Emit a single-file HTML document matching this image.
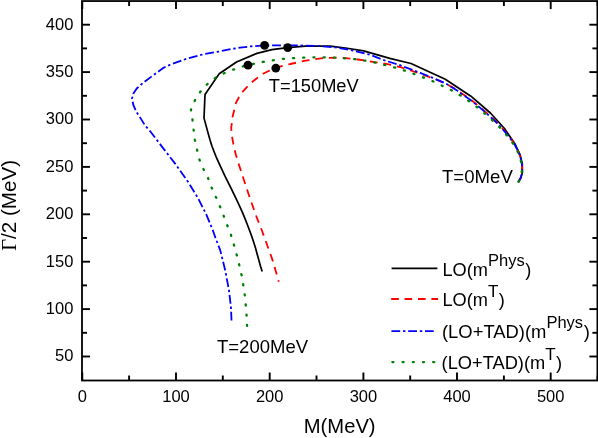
<!DOCTYPE html>
<html><head><meta charset="utf-8"><title>plot</title>
<style>html,body{margin:0;padding:0;background:#fff}body{width:598px;height:438px;position:relative;overflow:hidden;font-family:"Liberation Sans",sans-serif}</style></head>
<body>
<svg width="598" height="438" viewBox="0 0 598 438" style="position:absolute;left:0;top:0;will-change:transform;font-family:'Liberation Sans',sans-serif">
<rect x="0" y="0" width="598" height="438" fill="#fff"/>
<g fill="none" stroke-linejoin="round">
<polyline points="518.3,182.1 520.8,177.7 522.4,172.5 522.3,164.0 520.0,154.5 515.2,144.3 511.3,138.6 504.5,128.5 490.4,113.0 470.9,96.2 445.3,79.2 411.0,63.5 389.8,58.4 363.6,50.9 345.5,48.0 330.1,46.2 305.3,46.2 287.8,47.6 271.9,49.7 256.9,53.4 236.5,62.0 219.2,73.8 205.0,94.4 204.0,118.1 208.4,134.2 210.1,140.2 212.0,146.2 214.3,152.2 216.7,158.2 219.4,164.2 222.2,170.2 225.0,176.2 228.0,182.2 231.0,188.2 233.9,194.2 236.8,200.2 239.6,206.2 242.3,212.2 244.8,218.2 247.2,224.2 249.5,230.2 251.7,236.2 253.7,242.2 255.6,248.2 257.2,254.2 258.9,260.2 260.5,266.2 262.2,271.5" stroke="#000" stroke-width="1.7"/>
<polyline points="518.3,182.1 520.8,177.7 522.2,172.5 522.0,164.0 519.6,154.5 514.5,144.3 508.4,135.0 506.8,133.6 500.7,126.2 493.3,119.0 485.9,112.2 477.8,105.3 469.7,98.8 461.0,92.9 456.3,89.6 445.2,83.2 432.2,78.0 420.2,73.6 400.1,67.0 385.0,63.6 375.7,62.3 358.1,59.5 340.5,57.6 322.9,58.1 305.3,60.7 290.3,64.0 276.1,67.6 263.5,73.5 256.9,78.2 250.2,83.5 241.0,93.5 236.0,102.7 232.6,116.7 231.2,128.0 232.0,136.5 233.6,145.2 235.8,154.5 238.4,163.0 244.4,181.5 250.7,200.4 256.9,217.9 261.7,230.0 266.7,243.8 271.7,257.6 275.5,270.2 278.8,281.8" stroke="#ff0000" stroke-width="1.8" stroke-dasharray="7.8 5.92" stroke-dashoffset="1.4"/>
<polyline points="518.3,182.1 520.8,177.7 522.2,172.5 522.0,164.0 519.6,154.5 514.5,144.3 508.2,135.4 506.6,134.0 500.5,126.6 493.1,119.4 485.7,112.6 477.6,105.7 469.5,99.2 460.8,93.3 456.3,89.9 445.2,83.2 432.2,77.6 420.2,72.9 400.0,65.2 385.0,60.5 370.7,55.0 353.0,50.6 335.5,47.4 315.4,45.8 290.3,45.3 264.6,45.3 250.7,46.4 240.0,47.6 230.6,49.2 219.8,51.4 203.6,54.2 186.9,58.7 170.2,64.7 163.8,67.6 153.4,75.1 143.4,82.6 136.7,88.5 133.4,93.5 132.0,98.5 133.4,105.2 136.4,111.9 138.8,115.4 145.1,125.5 150.2,131.3 156.4,139.3 162.7,147.6 175.3,163.9 187.8,181.5 197.9,197.8 206.7,215.4 213.2,231.3 215.5,238.0 220.2,250.1 225.2,270.2 229.0,290.3 231.0,307.9 231.5,320.5" stroke="#0000ff" stroke-width="1.8" stroke-dasharray="8.85 2.8 2.43 2.8" stroke-dashoffset="0.17"/>
<polyline points="518.3,182.1 520.6,177.7 521.8,172.5 521.6,164.0 519.2,154.5 513.6,144.3 506.9,135.5 500.6,128.4 493.8,121.7 485.5,114.1 478.0,107.8 469.7,101.6 460.9,95.8 451.6,90.3 442.8,86.0 433.5,81.5 424.0,77.7 413.9,73.9 405.0,70.7 395.0,67.6 385.0,65.0 370.7,61.5 353.0,58.9 335.5,57.7 317.9,57.2 300.3,57.7 282.7,58.9 265.1,61.5 253.2,63.9 248.0,65.2 243.1,66.4 233.1,69.7 224.3,73.2 215.5,77.7 207.9,83.5 200.4,91.6 194.9,100.4 190.9,109.9 192.4,119.2 193.6,129.7 194.9,140.0 199.1,158.9 203.4,168.9 207.9,177.7 211.7,187.8 216.0,197.3 220.0,206.6 223.8,216.2 227.5,226.0 231.0,235.0 234.0,245.1 236.8,255.1 239.3,265.2 241.6,275.2 243.3,285.3 244.8,295.3 245.8,305.4 246.6,315.4 247.1,326.0" stroke="#008000" stroke-width="2.3" stroke-linecap="round" stroke-dasharray="1.1 9.1" stroke-dashoffset="-0.45"/>
</g>
<circle cx="264.6" cy="45.3" r="4.4" fill="#000"/>
<circle cx="287.7" cy="47.6" r="4.4" fill="#000"/>
<circle cx="248" cy="65.2" r="4.4" fill="#000"/>
<circle cx="275.8" cy="68.1" r="4.4" fill="#000"/>
<g stroke="#000" stroke-width="1.8" fill="none">
<rect x="82.0" y="1.05" width="515.4" height="379.45"/>
</g>
<g stroke="#000" stroke-width="1.9">
<line x1="82.3" y1="380.5" x2="82.3" y2="372.5"/>
<line x1="82.3" y1="1.05" x2="82.3" y2="9.05"/>
<line x1="129.1" y1="380.5" x2="129.1" y2="375.5"/>
<line x1="129.1" y1="1.05" x2="129.1" y2="6.05"/>
<line x1="176.0" y1="380.5" x2="176.0" y2="372.5"/>
<line x1="176.0" y1="1.05" x2="176.0" y2="9.05"/>
<line x1="222.8" y1="380.5" x2="222.8" y2="375.5"/>
<line x1="222.8" y1="1.05" x2="222.8" y2="6.05"/>
<line x1="269.7" y1="380.5" x2="269.7" y2="372.5"/>
<line x1="269.7" y1="1.05" x2="269.7" y2="9.05"/>
<line x1="316.5" y1="380.5" x2="316.5" y2="375.5"/>
<line x1="316.5" y1="1.05" x2="316.5" y2="6.05"/>
<line x1="363.4" y1="380.5" x2="363.4" y2="372.5"/>
<line x1="363.4" y1="1.05" x2="363.4" y2="9.05"/>
<line x1="410.2" y1="380.5" x2="410.2" y2="375.5"/>
<line x1="410.2" y1="1.05" x2="410.2" y2="6.05"/>
<line x1="457.0" y1="380.5" x2="457.0" y2="372.5"/>
<line x1="457.0" y1="1.05" x2="457.0" y2="9.05"/>
<line x1="503.9" y1="380.5" x2="503.9" y2="375.5"/>
<line x1="503.9" y1="1.05" x2="503.9" y2="6.05"/>
<line x1="550.7" y1="380.5" x2="550.7" y2="372.5"/>
<line x1="550.7" y1="1.05" x2="550.7" y2="9.05"/>
<line x1="597.6" y1="380.5" x2="597.6" y2="375.5"/>
<line x1="597.6" y1="1.05" x2="597.6" y2="6.05"/>
<line x1="82.0" y1="356.5" x2="90.0" y2="356.5"/>
<line x1="597.4" y1="356.5" x2="589.4" y2="356.5"/>
<line x1="82.0" y1="332.8" x2="87.0" y2="332.8"/>
<line x1="597.4" y1="332.8" x2="592.4" y2="332.8"/>
<line x1="82.0" y1="309.1" x2="90.0" y2="309.1"/>
<line x1="597.4" y1="309.1" x2="589.4" y2="309.1"/>
<line x1="82.0" y1="285.4" x2="87.0" y2="285.4"/>
<line x1="597.4" y1="285.4" x2="592.4" y2="285.4"/>
<line x1="82.0" y1="261.7" x2="90.0" y2="261.7"/>
<line x1="597.4" y1="261.7" x2="589.4" y2="261.7"/>
<line x1="82.0" y1="238.0" x2="87.0" y2="238.0"/>
<line x1="597.4" y1="238.0" x2="592.4" y2="238.0"/>
<line x1="82.0" y1="214.3" x2="90.0" y2="214.3"/>
<line x1="597.4" y1="214.3" x2="589.4" y2="214.3"/>
<line x1="82.0" y1="190.6" x2="87.0" y2="190.6"/>
<line x1="597.4" y1="190.6" x2="592.4" y2="190.6"/>
<line x1="82.0" y1="166.9" x2="90.0" y2="166.9"/>
<line x1="597.4" y1="166.9" x2="589.4" y2="166.9"/>
<line x1="82.0" y1="143.2" x2="87.0" y2="143.2"/>
<line x1="597.4" y1="143.2" x2="592.4" y2="143.2"/>
<line x1="82.0" y1="119.5" x2="90.0" y2="119.5"/>
<line x1="597.4" y1="119.5" x2="589.4" y2="119.5"/>
<line x1="82.0" y1="95.8" x2="87.0" y2="95.8"/>
<line x1="597.4" y1="95.8" x2="592.4" y2="95.8"/>
<line x1="82.0" y1="72.1" x2="90.0" y2="72.1"/>
<line x1="597.4" y1="72.1" x2="589.4" y2="72.1"/>
<line x1="82.0" y1="48.4" x2="87.0" y2="48.4"/>
<line x1="597.4" y1="48.4" x2="592.4" y2="48.4"/>
<line x1="82.0" y1="24.7" x2="90.0" y2="24.7"/>
<line x1="597.4" y1="24.7" x2="589.4" y2="24.7"/>
</g>
<g font-size="16.5" fill="#000">
<text x="82.3" y="401.5" text-anchor="middle">0</text>
<text x="176.0" y="401.5" text-anchor="middle">100</text>
<text x="269.7" y="401.5" text-anchor="middle">200</text>
<text x="363.4" y="401.5" text-anchor="middle">300</text>
<text x="457.0" y="401.5" text-anchor="middle">400</text>
<text x="550.7" y="401.5" text-anchor="middle">500</text>
<text x="73.4" y="361.4" text-anchor="end">50</text>
<text x="73.4" y="314.0" text-anchor="end">100</text>
<text x="73.4" y="266.6" text-anchor="end">150</text>
<text x="73.4" y="219.2" text-anchor="end">200</text>
<text x="73.4" y="171.8" text-anchor="end">250</text>
<text x="73.4" y="124.4" text-anchor="end">300</text>
<text x="73.4" y="77.0" text-anchor="end">350</text>
<text x="73.4" y="29.6" text-anchor="end">400</text>
</g>
<text x="303.8" y="432.6" font-size="20.2">M(MeV)</text>
<text transform="translate(15.7,250.8) rotate(-90)" font-size="20.6"><tspan font-family="'Liberation Serif',serif">Γ</tspan>/2 (MeV)</text>
<text x="268.8" y="92.1" font-size="18.3">T=150MeV</text>
<text x="442" y="182.9" font-size="18.6">T=0MeV</text>
<text x="217" y="352.8" font-size="18.5">T=200MeV</text>
<g fill="none">
<line x1="391.6" y1="268.4" x2="437.4" y2="268.4" stroke="#000" stroke-width="1.7"/>
<line x1="391.2" y1="299" x2="438.1" y2="299" stroke="#ff0000" stroke-width="1.8" stroke-dasharray="7.6 5.8"/>
<line x1="391.4" y1="331.2" x2="433.7" y2="331.2" stroke="#0000ff" stroke-width="1.8" stroke-dasharray="8.8 2.8 2.4 2.8"/>
<line x1="392.35" y1="362.1" x2="435.6" y2="362.1" stroke="#008000" stroke-width="2.3" stroke-linecap="round" stroke-dasharray="1.1 9.1"/>
</g>
<text x="442.5" y="275.6" font-size="18.2">LO(m<tspan dy="-10.0" font-size="16.5">Phys</tspan><tspan dy="10.0" dx="0.7">)</tspan></text>
<text x="442.5" y="306.1" font-size="18.2">LO(m<tspan dy="-9.3" font-size="17">T</tspan><tspan dy="9.3" dx="0.3">)</tspan></text>
<text x="442.0" y="338" font-size="18.4">(LO+TAD)(m<tspan dy="-10.0" font-size="16.5">Phys</tspan><tspan dy="10.0" dx="0.7">)</tspan></text>
<text x="441.6" y="368.9" font-size="18.25">(LO+TAD)(m<tspan dy="-9.3" font-size="17">T</tspan><tspan dy="9.3" dx="0.3">)</tspan></text>
</svg>
</body></html>
